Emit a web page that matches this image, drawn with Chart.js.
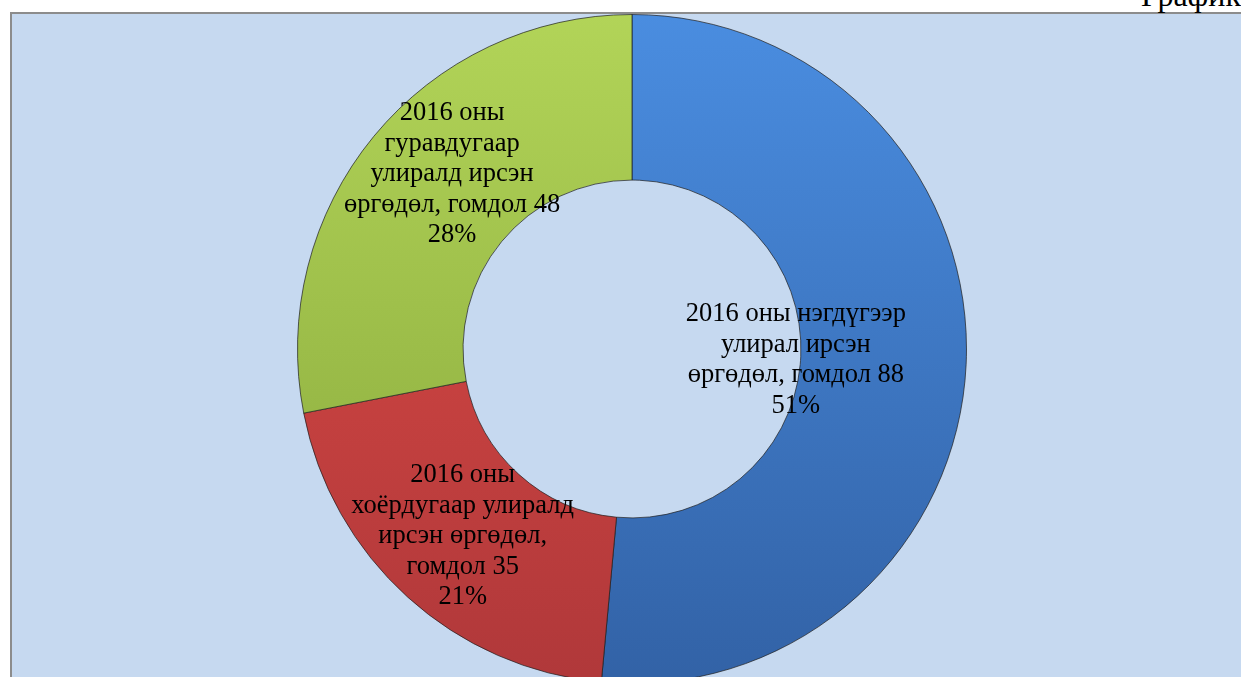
<!DOCTYPE html>
<html>
<head>
<meta charset="utf-8">
<script src="https://cdn.jsdelivr.net/npm/chart.js@4.4.1/dist/chart.umd.min.js"></script>
<style>
  html, body { margin: 0; padding: 0; background: #fff; width: 1241px; height: 677px; overflow: hidden; position: relative; }
  #frame {
    position: absolute; left: 10px; top: 12px; width: 1260px; height: 700px;
    background: #c6d9f0; border-left: 2px solid #8c8c8c; border-top: 2px solid #8c8c8c;
  }
  #title {
    position: absolute; right: 0px; top: -21px; line-height: 32px;
    font-family: "Liberation Serif", "DejaVu Serif", serif; font-size: 32px; color: #000;
  }
  #wrap { position: absolute; left: 297px; top: 14px; width: 670px; height: 670px; }
</style>
</head>
<body>
<div id="frame"></div>
<div id="title">График</div>
<div id="wrap"><canvas id="donut"></canvas></div>
<script>
// ========== data ==========
const categories = [
  ['2016 оны нэгдүгээр', 'улирал ирсэн', 'өргөдөл, гомдол'],
  ['2016 оны', 'хоёрдугаар улиралд', 'ирсэн өргөдөл,', 'гомдол'],
  ['2016 оны', 'гуравдугаар', 'улиралд ирсэн', 'өргөдөл, гомдол']
]
const values = [88, 35, 48]
const percentLabels = ['51%', '21%', '28%']

// gradient colors per slice (top -> bottom)
const sliceColors = [
  ['#4a8de0', '#3262a6'],
  ['#e04c46', '#b0383a'],
  ['#b2d458', '#86a63a']
]

function sliceFill(context) {
  const chart = context.chart
  const area = chart.chartArea
  if (!area) return sliceColors[context.dataIndex][0]
  const c = sliceColors[context.dataIndex]
  const g = chart.ctx.createLinearGradient(0, area.top, 0, area.bottom)
  g.addColorStop(0, c[0])
  g.addColorStop(1, c[1])
  return g
}

// ========== label plugin ==========
const sliceLabels = {
  id: 'sliceLabels',
  afterDatasetsDraw(chart, args, opts) {
    const ctx = chart.ctx
    const meta = chart.getDatasetMeta(0)
    ctx.save()
    ctx.fillStyle = '#000'
    ctx.font = '26.5px "Liberation Serif", "DejaVu Serif", serif'
    ctx.textAlign = 'center'
    ctx.textBaseline = 'middle'
    meta.data.forEach((arc, i) => {
      const p = arc.getProps(['x', 'y', 'startAngle', 'endAngle', 'outerRadius'], true)
      const mid = (p.startAngle + p.endAngle) / 2 + opts.angleShift[i] * Math.PI / 180
      const r = p.outerRadius * opts.radius[i]
      const cx = p.x + Math.cos(mid) * r
      const cy = p.y + Math.sin(mid) * r
      let lines = categories[i].slice()
      lines[lines.length - 1] += ' ' + values[i]
      lines.push(percentLabels[i])
      const lh = 30.5
      const top = cy - (lines.length - 1) * lh / 2
      lines.forEach((t, k) => ctx.fillText(t, cx, top + k * lh))
    })
    ctx.restore()
  }
}

new Chart(document.getElementById('donut'), {
  type: 'doughnut',
  data: {
    labels: categories.map(c => c.join(' ')),
    datasets: [{
      data: values,
      backgroundColor: sliceFill,
      borderColor: 'rgba(30,30,30,0.7)',
      borderWidth: 1
    }]
  },
  options: {
    responsive: true,
    maintainAspectRatio: false,
    animation: false,
    cutout: '50.5%',
    layout: { padding: 0 },
    plugins: {
      legend: { display: false },
      tooltip: { enabled: false },
      sliceLabels: {
        radius: [0.491, 0.755, 0.75],
        angleShift: [1.2, 0, 4.7]
      }
    }
  },
  plugins: [sliceLabels]
})
</script>
</body>
</html>
